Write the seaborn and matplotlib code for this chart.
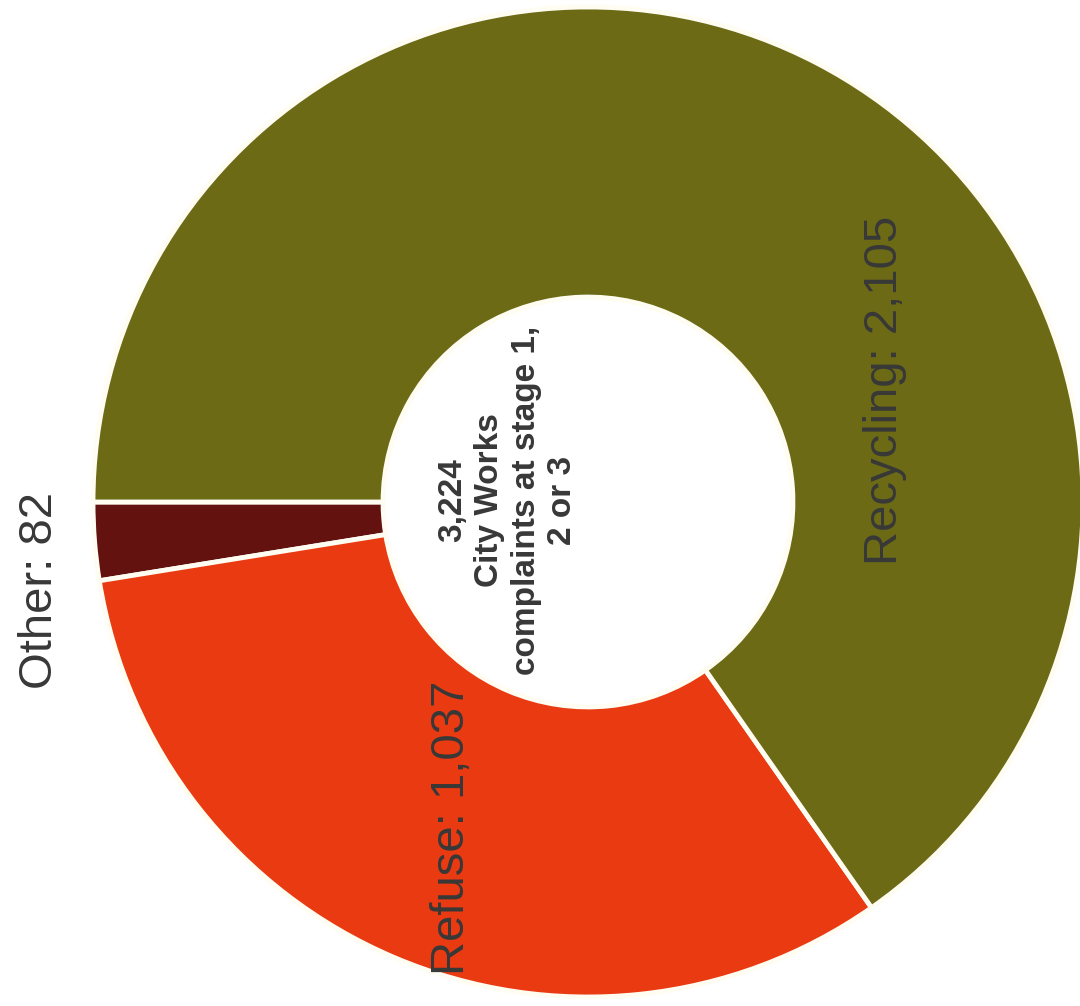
import matplotlib
matplotlib.use("Agg")
import matplotlib.pyplot as plt
import seaborn as sns

# Data
categories = ["Other", "Refuse", "Recycling"]
values = [82, 1037, 2105]
total_label = "3,224"
center_caption = "City Works\ncomplaints at stage 1,\n2 or 3"
colors = ["#63120f", "#e93a12", "#6c6a15"]

sns.set_theme(style="white")
plt.rcParams['font.family'] = ['Liberation Sans', 'DejaVu Sans']

fig = plt.figure(figsize=(10.8, 10.06), dpi=100)
ax = fig.add_axes([0, 0, 1, 1])

wedges, _ = ax.pie(values, colors=colors, startangle=180, counterclock=True,
                   radius=1.0,
                   wedgeprops=dict(width=0.586, edgecolor="#fffdf2", linewidth=3.5))

ax.set_xlim(-588 / 495, (1080 - 588) / 495)
ax.set_ylim(-(1006 - 502) / 495, 502 / 495)
ax.set_aspect("equal")
ax.axis("off")

label_pos = {"Other": (-1.108, -0.178), "Refuse": (-0.275, -0.659), "Recycling": (0.600, 0.226)}
for cat, val in zip(categories, values):
    x, y = label_pos[cat]
    ax.text(x, y, f"{cat}: {val:,}", rotation=90, ha="center", va="center",
            fontsize=34, color="#383838")

ax.text(-0.162, 0.004, f"{total_label}\n{center_caption}", rotation=90,
        ha="center", va="center", multialignment="center",
        fontsize=24, fontweight="bold", color="#383838", linespacing=1.24)

fig.savefig("out.png", dpi=100)
